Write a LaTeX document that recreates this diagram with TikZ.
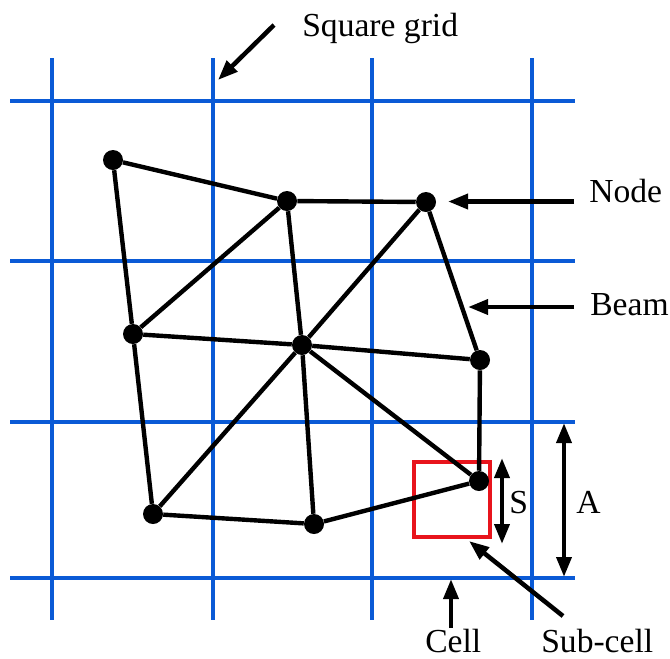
\documentclass[tikz,border=0pt]{standalone}
\usepackage{xcolor}
\usepackage{fontspec}
\setmainfont{Liberation Serif}
\usetikzlibrary{arrows.meta}
\definecolor{gridblue}{HTML}{0A5AD6}
\definecolor{cellred}{HTML}{E8141C}

\begin{document}
\begin{tikzpicture}[
  x=0.75pt, y=-0.75pt,
  font=\fontsize{25.2}{28}\selectfont,
  >={Triangle[length=15pt,width=11pt]},
  gridline/.style={gridblue, line width=2.5pt},
  beam/.style={black, line width=3.3pt},
  joint/.style={circle, fill=black, inner sep=0pt, minimum size=15pt},
  subcell/.style={draw=cellred, line width=3pt, inner sep=0pt, minimum size=56.5pt},
  arr/.style={->, black, line width=3.4pt},
  dbl/.style={<->, black, line width=3.4pt},
  lbl/.style={inner sep=0pt, anchor=base west}
]
  \useasboundingbox (0,0) rectangle (670,658);

  \foreach \x in {52,213,372,532}
    \draw[gridline] (\x,58) -- (\x,620);
  \foreach \y in {101,261,422,578}
    \draw[gridline] (10,\y) -- (575,\y);

  \node[subcell] (sub) at (452,499.5) {};

  \node[joint] (n1) at (113,160) {};
  \node[joint] (n2) at (287,201) {};
  \node[joint] (n3) at (426,202) {};
  \node[joint] (n4) at (133,334) {};
  \node[joint] (n5) at (302,345) {};
  \node[joint] (n6) at (480,360) {};
  \node[joint] (n7) at (479,481) {};
  \node[joint] (n8) at (153,514) {};
  \node[joint] (n9) at (314,524) {};

  \foreach \a/\b in {n1/n2, n2/n3, n1/n4, n2/n4, n2/n5, n3/n5, n3/n6, n4/n5,
      n5/n6, n4/n8, n5/n8, n5/n9, n5/n7, n6/n7, n8/n9, n9/n7}
    \draw[beam] (\a) -- (\b);

  \node[lbl] (tgrid) at (302,36) {Square grid};
  \node[lbl] (tnode) at (589,202) {Node};
  \node[lbl] (tbeam) at (590,315) {Beam};
  \node[lbl] (ts) at (509,513) {S};
  \node[lbl] (ta) at (576,513) {A};
  \node[lbl] (tcell) at (425,652) {Cell};
  \node[lbl] (tsub) at (541,652) {Sub-cell};

  \coordinate (g1) at (274,25);
  \coordinate (g2) at (218,80);
  \coordinate (e1) at (574,201.5);
  \coordinate (e2) at (448,201.5);
  \coordinate (b1) at (574,307);
  \coordinate (b2) at (468,307);
  \coordinate (s1) at (502,458);
  \coordinate (s2) at (502,544);
  \coordinate (a1) at (564,423);
  \coordinate (a2) at (564,577);
  \coordinate (c1) at (451,628);
  \coordinate (c2) at (451,579);
  \coordinate (u1) at (563,616);
  \coordinate (u2) at (469,541);

  \foreach \a/\b in {g1/g2, e1/e2, b1/b2, c1/c2, u1/u2}
    \draw[arr] (\a) -- (\b);
  \draw[dbl] (s1) -- (s2);
  \draw[dbl] (a1) -- (a2);
\end{tikzpicture}
\end{document}
